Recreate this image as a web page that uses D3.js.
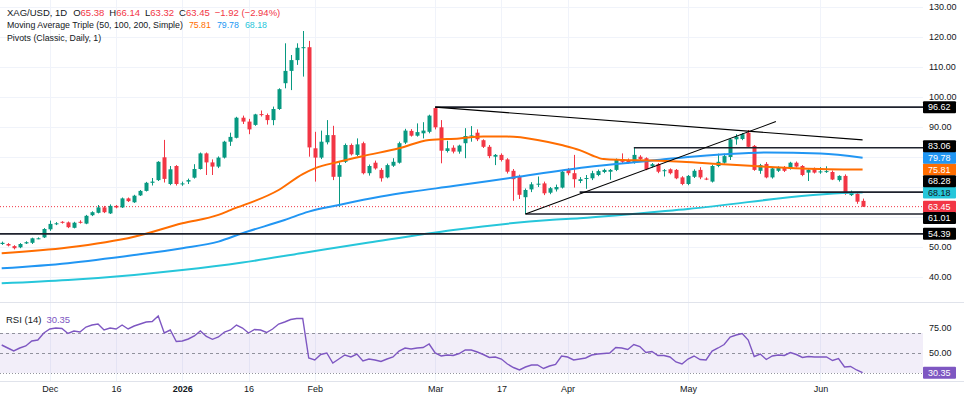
<!DOCTYPE html>
<html>
<head>
<meta charset="utf-8">
<script src="https://cdn.jsdelivr.net/npm/d3@7"></script>
<style>
html, body { margin: 0; padding: 0; background: #fff; }
svg { display: block; font-family: "Liberation Sans", Arial, sans-serif; }
</style>
</head>
<body>
<svg id="chart" width="964" height="404"></svg>
<script>
// daily XAG/USD bars
const opens = [51.0,51.0,50.3,49.9,51.2,51.4,52.8,53.2,55.9,57.6, 58.4,58.2,56.4,58.4,57.8,60.6,61.4,63.2,61.2,63.7,
  63.2,66.2,64.9,67.2,68.7,71.4,72.3,79.9,71.0,77.0, 70.9,71.8,73.1,76.0,81.2,78.2,76.8,79.8,85.1,86.4,
  93.1,91.8,90.7,94.3,94.0,92.3,96.0,104.6,108.7,112.3, 116.3,116.6,82.9,79.8,84.9,87.3,73.4,78.4,84.0,80.7,
  84.6,74.6,78.1,75.7,73.2,77.1,78.1,84.8,88.7,87.1, 87.9,88.4,96.3,89.9,82.0,83.1,81.8,84.6,87.0,88.1,
  85.6,83.4,80.1,80.7,79.2,75.4,73.4,66.6,69.2,70.9, 71.2,68.1,69.2,69.8,75.7,74.6,72.0,72.8,72.9,74.0,
  75.0,75.1,75.7,79.3,79.0,78.1,80.1,79.6,76.9,77.6, 75.4,75.9,75.7,73.2,71.0,73.4,75.7,72.8,71.8,77.0,
  78.1,80.0,85.9,86.0,88.1,83.7,75.4,77.7,73.2,75.4, 76.6,76.2,78.1,77.0,74.8,76.2,75.0,75.0,75.0,72.3,
  73.7,67.3,67.8,65.38];
const highs = [51.8,51.3,50.6,51.3,51.9,53.1,53.2,56.3,58.8,58.3, 58.6,58.5,58.4,58.9,60.7,61.9,64.0,63.7,64.2,64.0,
  66.5,66.5,67.4,69.0,71.7,73.0,78.6,85.7,77.0,77.3, 71.8,72.8,77.6,81.5,81.5,79.2,80.2,85.4,88.1,93.4,
  93.8,92.7,94.4,95.5,94.5,96.8,102.9,117.9,114.0,117.9, 122.0,118.7,88.4,88.8,92.3,90.4,78.2,84.5,84.5,86.2,
  85.1,77.5,78.8,76.3,77.8,79.6,85.1,89.4,89.3,91.2, 91.6,94.1,96.62,92.3,85.4,83.9,84.1,89.6,90.3,89.2,
  85.9,84.0,81.0,81.2,79.6,76.0,74.1,69.5,71.6,73.5, 71.8,70.0,70.8,75.6,76.3,80.7,73.3,74.0,75.4,75.8,
  76.1,76.0,79.5,81.2,79.5,83.06,80.6,79.9,78.0,78.0, 76.0,76.2,76.0,73.6,74.0,75.9,76.6,73.2,77.4,81.1,
  81.1,86.2,87.6,88.0,89.0,84.0,77.7,78.3,76.6,76.9, 77.0,78.4,78.5,77.3,75.9,76.5,76.6,76.9,75.5,73.9,
  74.2,68.8,68.2,66.14];
const lows = [50.7,50.2,49.2,49.6,51.0,51.0,52.6,53.0,55.4,57.3, 57.8,56.3,56.2,57.8,57.6,60.3,61.2,61.3,61.0,62.9,
  63.0,65.0,64.7,67.0,68.5,70.5,72.0,71.5,70.6,70.5, 70.4,71.0,72.8,75.8,74.0,74.0,76.3,79.5,83.7,86.2,
  91.0,87.6,90.4,93.5,90.8,90.6,95.7,102.9,102.3,110.7, 106.8,80.1,71.8,79.3,84.2,72.3,63.4,78.0,80.5,80.3,
  74.2,73.8,75.8,71.8,72.9,76.7,77.8,84.3,86.8,86.8, 86.2,87.9,89.2,77.9,81.5,81.2,81.1,79.6,85.1,85.3,
  83.0,79.6,77.3,78.5,74.5,65.4,66.0,61.01,68.3,70.0, 67.3,67.6,68.5,69.5,73.9,69.8,71.3,69.4,72.3,73.6,
  74.6,72.4,75.3,78.0,77.8,77.8,78.9,75.6,76.5,74.6, 73.5,74.2,72.6,70.6,70.6,73.0,72.6,72.3,71.5,76.6,
  77.8,79.0,84.1,85.6,83.0,75.4,74.4,72.9,72.8,75.0, 75.0,75.8,76.5,73.6,72.0,74.5,74.4,74.7,72.3,71.8,
  67.4,67.0,64.4,63.32];
const closes = [51.4,50.5,49.6,51.0,51.6,52.9,52.9,56.0,57.7,57.9, 58.2,56.6,58.1,58.2,60.4,61.6,63.2,61.6,63.7,63.2,
  66.2,65.3,67.1,68.7,71.4,71.8,78.4,72.7,75.9,71.0, 71.2,72.3,76.0,81.2,78.2,76.8,79.8,85.1,86.7,93.1,
  91.8,89.2,94.2,94.1,92.3,96.0,102.6,108.7,112.3,116.4, 116.6,83.2,79.8,85.1,87.3,73.4,77.3,84.0,80.9,84.2,
  74.6,77.0,76.2,72.9,77.3,78.4,84.6,88.8,87.1,88.3, 88.8,93.8,89.9,82.1,82.9,81.8,83.8,87.0,87.2,85.9,
  83.4,80.3,80.7,79.0,75.1,72.6,67.4,69.0,70.9,71.1, 67.9,69.6,70.0,75.1,74.6,72.6,72.6,73.0,74.6,75.3,
  75.7,75.7,79.0,78.4,78.1,80.7,79.3,75.9,77.6,75.1, 75.6,74.6,72.9,71.0,73.7,75.4,73.2,72.6,77.0,78.4,
  80.3,85.9,86.8,87.6,83.4,75.7,77.3,73.2,76.2,76.6, 75.4,78.1,76.8,74.0,75.7,74.8,75.2,75.3,72.5,73.7,
  67.7,68.1,65.1,63.45];
const rsi = [58,55,52,55,57,62,63,70,74,75, 74.5,69.5,72,71,76,78,79,73,75,74,
  78,74,77,79,81,81.5,87,70,73,61.5, 62,64,67,72,66.5,63.7,66,71,73,78,
  75,70,73.5,73,70.5,74,79,81,83.5,84.5, 84.5,45,43,48.5,50,40,44,48,46,49,
  42,44,43,41.5,44,46,52,55,54,55, 55.5,59,50,47,48,47.5,49.5,53,53,51,
  48.5,45.5,46,44,39,35.5,33,36,38,38, 34.5,37,38.5,47,46,43,44,45,48,49,
  49.5,50,55.5,55,53.5,58.5,56.5,50.5,51.5,47.5, 47.5,46,41,39,44,47,43.5,43,52,55,
  58.5,66,68,69.5,63,46.5,49,43.5,47,48, 47.5,50.5,48.5,45.5,46.5,46,46,46,42.5,44.5,
  36,36.5,33,30.35];

// moving averages sampled along the drawn curves: [bar index, value]
const sma50 = [[0,47.9],[11,49.8],[22,53.4],[30,57.9],[36,60.7],[38,62.3],[46,69.0],[50,74.3],[52,76.2],[56,78.4],
  [60,80.3],[66,82.9],[71,85.7],[76,86.2],[80,86.8],[84,86.8],[89,85.7],[93,84.0],[96,82.3],[98,80.6],
  [100,79.3],[103,79.0],[108,78.8],[113,78.4],[119,77.7],[125,77.0],[133,76.2],[143,75.81]];
const sma100 = [[0,42.9],[11,44.6],[22,47.3],[30,49.6],[36,51.8],[40,54.6],[47,59.0],[51,61.8],[56,64.0],[63,66.8],
  [68,68.4],[75,70.3],[85,73.2],[97,76.6],[108,78.8],[114,80.0],[120,80.9],[127,81.5],[136,81.2],[143,79.78]];
const sma200 = [[0,37.9],[11,39.0],[22,40.7],[30,42.3],[40,44.8],[50,48.0],[61,51.5],[75,55.7],[91,59.0],[96,59.6],
  [114,62.7],[141,68.1],[143,68.18]];

// pivot levels (value, first bar) and trend lines [i0, v0, i1, v1]
const pivotValues = [96.62, 83.06, 68.28, 61.01, 54.39];
const pivotStart = [72, 105, 96, 87, -1];
const trendLines = [[72, 96.62, 143, 85.7], [87, 61.01, 128.6, 91.8]];

const lastPrice = 63.45;
const maLast = [75.81, 79.78, 68.18];
const maColors = ['#ff6d00', '#2196f3', '#26c6da'];

const timeLabels = ['Dec', '16', '2026', '16', 'Feb', 'Mar', '17', 'Apr', 'May', 'Jun'];
const timeIdx = [8, 19, 30, 41, 52, 72, 83, 94, 114, 136];
const priceTicks = [40, 50, 60, 70, 80, 90, 100, 110, 120, 130];
const rsiTicks = [25, 50, 75];
const rsiBands = [70, 50, 30];

const up = '#089981', down = '#f23645', ink = '#131722';
const plotRight = 923;
const svg = d3.select('#chart');

const x = d3.scaleLinear().domain([0, 143]).range([1.7, 862.6]);
const y = d3.scaleLinear().domain([40, 130]).range([277, 7]);
const yRsi = d3.scaleLinear().domain([0, 100]).range([403, 303]);

const defs = svg.append('defs');
defs.append('clipPath').attr('id', 'clipMain')
  .append('rect').attr('x', 0).attr('y', 0).attr('width', plotRight).attr('height', 301);
defs.append('clipPath').attr('id', 'clipRsi')
  .append('rect').attr('x', 0).attr('y', 303).attr('width', plotRight).attr('height', 78);

// grid
const grid = svg.append('g');
grid.selectAll('.vg').data(timeIdx).join('line').attr('class', 'vg')
  .attr('x1', d => Math.round(x(d)) + 0.5).attr('x2', d => Math.round(x(d)) + 0.5)
  .attr('y1', 0).attr('y2', 381).attr('stroke', '#f0f3fa');
grid.selectAll('.hg').data(priceTicks).join('line').attr('class', 'hg')
  .attr('x1', 0).attr('x2', plotRight).attr('y1', d => Math.round(y(d)) + 0.5).attr('y2', d => Math.round(y(d)) + 0.5)
  .attr('stroke', '#f0f3fa');
svg.append('line').attr('x1', 0).attr('x2', 964).attr('y1', 302.5).attr('y2', 302.5).attr('stroke', '#e0e3eb');
svg.append('line').attr('x1', 0).attr('x2', 964).attr('y1', 381.5).attr('y2', 381.5).attr('stroke', '#e0e3eb');

const main = svg.append('g').attr('clip-path', 'url(#clipMain)');

// current price dotted line
main.append('line').attr('x1', 0).attr('x2', plotRight)
  .attr('y1', y(lastPrice)).attr('y2', y(lastPrice))
  .attr('stroke', down).attr('stroke-dasharray', '1,2');

// candles
const bars = closes.map((c, i) => ({ i, o: opens[i], h: highs[i], l: lows[i], c }));
const col = d => (d.c >= d.o ? up : down);
const cg = main.append('g');
cg.selectAll('.wick').data(bars).join('line').attr('class', 'wick')
  .attr('x1', d => Math.round(x(d.i)) + 0.5).attr('x2', d => Math.round(x(d.i)) + 0.5)
  .attr('y1', d => y(d.h)).attr('y2', d => y(d.l)).attr('stroke', col);
cg.selectAll('.body').data(bars).join('rect').attr('class', 'body')
  .attr('x', d => Math.round(x(d.i)) - 1.5).attr('width', 4)
  .attr('y', d => y(Math.max(d.o, d.c)))
  .attr('height', d => Math.max(1, Math.abs(y(d.o) - y(d.c))))
  .attr('fill', col);

// moving averages
const maLine = d3.line().x(d => x(d[0])).y(d => y(d[1])).curve(d3.curveMonotoneX);
[sma200, sma100, sma50].forEach((s, k) => {
  main.append('path').datum(s).attr('d', maLine).attr('fill', 'none')
    .attr('stroke', maColors[2 - k]).attr('stroke-width', 2);
});

// pivots and trend lines
main.selectAll('.pivot').data(pivotValues).join('line').attr('class', 'pivot')
  .attr('x1', (d, k) => x(pivotStart[k])).attr('x2', plotRight)
  .attr('y1', d => y(d)).attr('y2', d => y(d))
  .attr('stroke', '#1e222d').attr('stroke-width', 1.6);
main.selectAll('.trend').data(trendLines).join('line').attr('class', 'trend')
  .attr('x1', d => x(d[0])).attr('y1', d => y(d[1]))
  .attr('x2', d => x(d[2])).attr('y2', d => y(d[3]))
  .attr('stroke', '#000').attr('stroke-width', 1.1);

// RSI pane
const rp = svg.append('g').attr('clip-path', 'url(#clipRsi)');
rp.append('rect').attr('x', 0).attr('width', plotRight)
  .attr('y', yRsi(rsiBands[0])).attr('height', yRsi(rsiBands[2]) - yRsi(rsiBands[0]))
  .attr('fill', 'rgba(126,87,194,0.1)');
rp.selectAll('.band').data(rsiBands).join('line').attr('class', 'band')
  .attr('x1', 0).attr('x2', plotRight)
  .attr('y1', d => Math.round(yRsi(d)) + 0.5).attr('y2', d => Math.round(yRsi(d)) + 0.5)
  .attr('stroke', '#787b86').attr('stroke-opacity', 0.8)
  .attr('stroke-dasharray', (d, k) => (k === 2 ? '1,2' : '3,3'));
rp.append('path').datum(rsi)
  .attr('d', d3.line().x((d, i) => x(i)).y(d => yRsi(d)))
  .attr('fill', 'none').attr('stroke', '#7e57c2').attr('stroke-width', 1.4);

// right-side tags with simple collision avoidance
const tagH = 12, gap = 11;
const placed = [];
const fixedTags = [
  { v: lastPrice, bg: down, fg: '#fff' },
  { v: maLast[0], bg: maColors[0], fg: '#fff' },
  { v: maLast[1], bg: maColors[1], fg: '#fff' },
  { v: maLast[2], bg: maColors[2], fg: ink }
];
fixedTags.forEach(t => { t.pos = y(t.v); placed.push(t); });
pivotValues.forEach(v => {
  const want = y(v);
  const free = p => placed.every(q => Math.abs(q.pos - p) >= gap);
  let pos = want;
  for (let k = 0; k <= 60 && !free(pos); k += 0.5) {
    if (free(want - k)) { pos = want - k; break; }
    if (free(want + k)) { pos = want + k; break; }
  }
  placed.push({ v, pos, bg: '#000', fg: '#fff' });
});

// price axis labels
const shownPrices = priceTicks.filter(p => placed.every(t => Math.abs(t.pos - y(p)) >= 10));
const pAxis = svg.append('g').attr('transform', 'translate(929,0)')
  .call(d3.axisRight(y).tickValues(shownPrices).tickFormat(d3.format('.2f')).tickSize(0).tickPadding(0));
pAxis.select('.domain').remove();
pAxis.selectAll('text').attr('font-size', 9).attr('fill', ink).attr('font-family', null);

const tags = svg.append('g');
const tg = tags.selectAll('g').data(placed).join('g')
  .attr('transform', d => `translate(923,${d.pos})`);
tg.append('rect').attr('x', 0).attr('y', -tagH / 2).attr('width', 33).attr('height', tagH)
  .attr('rx', 1).attr('fill', d => d.bg);
tg.append('text').attr('x', 5).attr('dy', '0.35em').attr('font-size', 9)
  .attr('fill', d => d.fg).text(d => d.v.toFixed(2));

// RSI axis + tag
const rsiLast = rsi[rsi.length - 1];
const shownRsi = rsiTicks.filter(r => Math.abs(yRsi(r) - yRsi(rsiLast)) >= 10);
const rAxis = svg.append('g').attr('transform', 'translate(929,0)')
  .call(d3.axisRight(yRsi).tickValues(shownRsi).tickFormat(d3.format('.2f')).tickSize(0).tickPadding(0));
rAxis.select('.domain').remove();
rAxis.selectAll('text').attr('font-size', 9).attr('fill', ink).attr('font-family', null);
const rt = svg.append('g').attr('transform', `translate(923,${yRsi(rsiLast)})`);
rt.append('rect').attr('y', -tagH / 2).attr('width', 33).attr('height', tagH).attr('rx', 1).attr('fill', '#7e57c2');
rt.append('text').attr('x', 5).attr('dy', '0.35em').attr('font-size', 9).attr('fill', '#fff').text(rsiLast.toFixed(2));

// time axis
const tAxis = svg.append('g').attr('transform', 'translate(0,386)')
  .call(d3.axisBottom(x).tickValues(timeIdx).tickFormat((d, k) => timeLabels[k]).tickSize(0).tickPadding(0));
tAxis.select('.domain').remove();
tAxis.selectAll('text').attr('font-size', 9).attr('fill', ink).attr('font-family', null)
  .attr('font-weight', (d, k) => (timeLabels[k] === '2026' ? 'bold' : null));

// legend
const lg = svg.append('g').attr('font-size', 9.5).attr('fill', ink);
const l1 = lg.append('text').attr('x', 7).attr('y', 12.5).attr('dy', '0.35em');
l1.append('tspan').text('XAG/USD, 1D');
[['O', opens], ['H', highs], ['L', lows], ['C', closes]].forEach(([k, arr], j) => {
  l1.append('tspan').attr('dx', j === 0 ? 6 : 5).text(k);
  l1.append('tspan').attr('fill', down).text(arr[arr.length - 1].toFixed(2));
});
l1.append('tspan').attr('dx', 5).attr('fill', down).text('\u22121.92 (\u22122.94%)');
const l2 = lg.append('text').attr('x', 7).attr('y', 25.3).attr('dy', '0.35em').attr('font-size', 8.8);
l2.append('tspan').text('Moving Average Triple (50, 100, 200, Simple)');
maLast.forEach((v, k) => l2.append('tspan').attr('dx', 6).attr('fill', maColors[k]).text(v.toFixed(2)));
lg.append('text').attr('x', 7).attr('y', 38).attr('dy', '0.35em').attr('font-size', 8.8).text('Pivots (Classic, Daily, 1)');

const l4 = lg.append('text').attr('x', 6).attr('y', 320).attr('dy', '0.35em');
l4.append('tspan').text('RSI (14)');
l4.append('tspan').attr('dx', 5).attr('fill', '#7e57c2').text(rsiLast.toFixed(2));
</script>
</body>
</html>
